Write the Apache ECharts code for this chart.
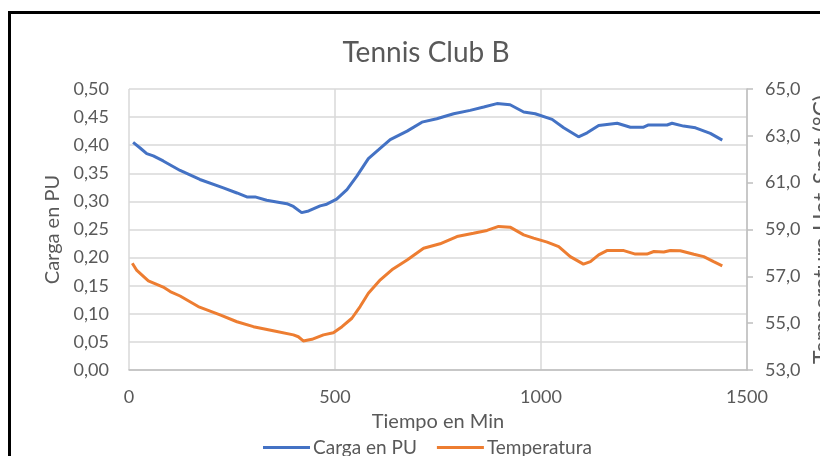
<!DOCTYPE html>
<html>
<head>
<meta charset="utf-8">
<title>Tennis Club B</title>
<script src="https://cdn.jsdelivr.net/npm/echarts@6/dist/echarts.min.js"></script>
<style>
  html, body { margin: 0; padding: 0; background: #fff; }
  #chart { width: 820px; height: 456px; }
</style>
</head>
<body>
<div id="chart"></div>
<script>
// Carga en PU (minutos / valor)
let cargaMin = [10, 27, 43, 59, 83, 124, 172, 229, 262, 286, 306, 334, 383, 399, 419, 436, 464, 480, 504, 529, 553, 581, 606, 634, 675, 711, 747, 788, 828, 861, 893, 925, 958, 986, 1027, 1055, 1091, 1112, 1140, 1185, 1217, 1249, 1261, 1306, 1318, 1346, 1375, 1411, 1440];
let cargaVal = [0.405, 0.395, 0.385, 0.381, 0.372, 0.355, 0.339, 0.324, 0.315, 0.308, 0.308, 0.302, 0.296, 0.291, 0.280, 0.283, 0.292, 0.295, 0.304, 0.321, 0.345, 0.376, 0.392, 0.410, 0.425, 0.441, 0.447, 0.456, 0.462, 0.468, 0.474, 0.472, 0.459, 0.456, 0.446, 0.431, 0.415, 0.422, 0.435, 0.439, 0.432, 0.432, 0.436, 0.436, 0.439, 0.434, 0.431, 0.421, 0.409];

// Temperatura Hot-Spot (°C)
let tempMin = [8, 19, 47, 83, 100, 124, 168, 221, 262, 302, 350, 399, 411, 423, 444, 472, 496, 517, 541, 561, 581, 610, 638, 675, 715, 755, 796, 836, 869, 897, 925, 958, 982, 1015, 1043, 1071, 1103, 1120, 1140, 1160, 1201, 1229, 1257, 1274, 1298, 1314, 1338, 1371, 1395, 1419, 1440];
let tempVal = [57.56, 57.25, 56.81, 56.54, 56.35, 56.16, 55.71, 55.35, 55.06, 54.85, 54.68, 54.50, 54.42, 54.24, 54.31, 54.50, 54.59, 54.85, 55.21, 55.71, 56.28, 56.85, 57.28, 57.70, 58.20, 58.39, 58.70, 58.84, 58.96, 59.13, 59.10, 58.77, 58.63, 58.46, 58.27, 57.84, 57.52, 57.63, 57.92, 58.10, 58.10, 57.95, 57.95, 58.06, 58.04, 58.10, 58.09, 57.94, 57.84, 57.63, 57.45];

let textColor = "#595959";
let font = "Lato";

function pairs(xs, ys) {
  return xs.map(function (x, i) { return [x, ys[i]]; });
}

let option = {
  animation: false,
  textStyle: { fontFamily: font },
  title: {
    text: "Tennis Club B",
    left: 421,
    top: 34,
    textAlign: "center",
    textStyle: { fontFamily: font, fontSize: 28, fontWeight: "normal", color: textColor },
  },
  legend: {
    left: 263,
    top: 438,
    padding: 0,
    itemWidth: 47,
    itemHeight: 3,
    itemGap: 20,
    icon: "rect",
    textStyle: { fontFamily: font, fontSize: 19, color: textColor, padding: [0, 0, 0, -2] },
    data: ["Carga en PU", "Temperatura"],
  },
  grid: {
    left: 129,
    right: 73,
    top: 89,
    bottom: 86,
    // no dejar que los nombres de eje encojan el area
    outerBoundsMode: "none",
  },
  xAxis: {
    type: "value",
    min: 0,
    max: 1500,
    interval: 500,
    name: "Tiempo en Min",
    nameLocation: "middle",
    nameGap: 42,
    nameTextStyle: { fontFamily: font, fontSize: 20, color: textColor },
    axisLine: { show: true, lineStyle: { color: "#bfbfbf", width: 1.5 } },
    axisTick: { show: false },
    axisLabel: {
      fontFamily: font,
      fontSize: 18,
      color: textColor,
      margin: 18,
      formatter: function (v) { return String(v); },
    },
    splitLine: { show: true, lineStyle: { color: "#d9d9d9", width: 1.5 } },
  },
  yAxis: [
    {
      type: "value",
      min: 0,
      max: 0.5,
      interval: 0.05,
      name: "Carga en PU",
      nameLocation: "middle",
      nameGap: 66,
      nameTextStyle: { fontFamily: font, fontSize: 20, color: textColor },
      axisLine: { show: false },
      axisTick: { show: false },
      axisLabel: {
        fontFamily: font,
        fontSize: 18,
        color: textColor,
        margin: 20,
        formatter: function (v) { return v.toFixed(2).replace(".", ","); },
      },
      splitLine: { show: true, lineStyle: { color: "#d9d9d9", width: 1.5 } },
    },
    {
      type: "value",
      position: "right",
      min: 53,
      max: 65,
      interval: 2,
      name: "Temperatura Hot-Spot (°C)",
      nameLocation: "middle",
      nameGap: 62,
      nameRotate: 90,
      nameTextStyle: { fontFamily: font, fontSize: 23, color: textColor },
      axisLine: { show: true, lineStyle: { color: "#bfbfbf", width: 1.5 } },
      axisTick: { show: true, length: 6, lineStyle: { color: "#bfbfbf", width: 1.5 } },
      axisLabel: {
        fontFamily: font,
        fontSize: 18,
        color: textColor,
        margin: 18,
        formatter: function (v) { return v.toFixed(1).replace(".", ","); },
      },
      splitLine: { show: false },
    },
  ],
  series: [
    {
      name: "Carga en PU",
      type: "line",
      yAxisIndex: 0,
      showSymbol: false,
      symbol: "none",
      data: pairs(cargaMin, cargaVal),
      itemStyle: { color: "#4472C4" },
      lineStyle: { color: "#4472C4", width: 3 },
    },
    {
      name: "Temperatura",
      type: "line",
      yAxisIndex: 1,
      showSymbol: false,
      symbol: "none",
      data: pairs(tempMin, tempVal),
      itemStyle: { color: "#ED7D31" },
      lineStyle: { color: "#ED7D31", width: 3 },
    },
  ],
  // marco negro de la captura
  graphic: [
    {
      type: "rect",
      shape: { x: 9.5, y: 12.5, width: 1000, height: 1000 },
      style: { fill: "none", stroke: "#000", lineWidth: 3 },
    },
  ],
};

let myChart = echarts.init(document.getElementById("chart"));
myChart.setOption(option);
window.addEventListener("resize", function () {
  myChart.resize();
});
</script>
</body>
</html>
